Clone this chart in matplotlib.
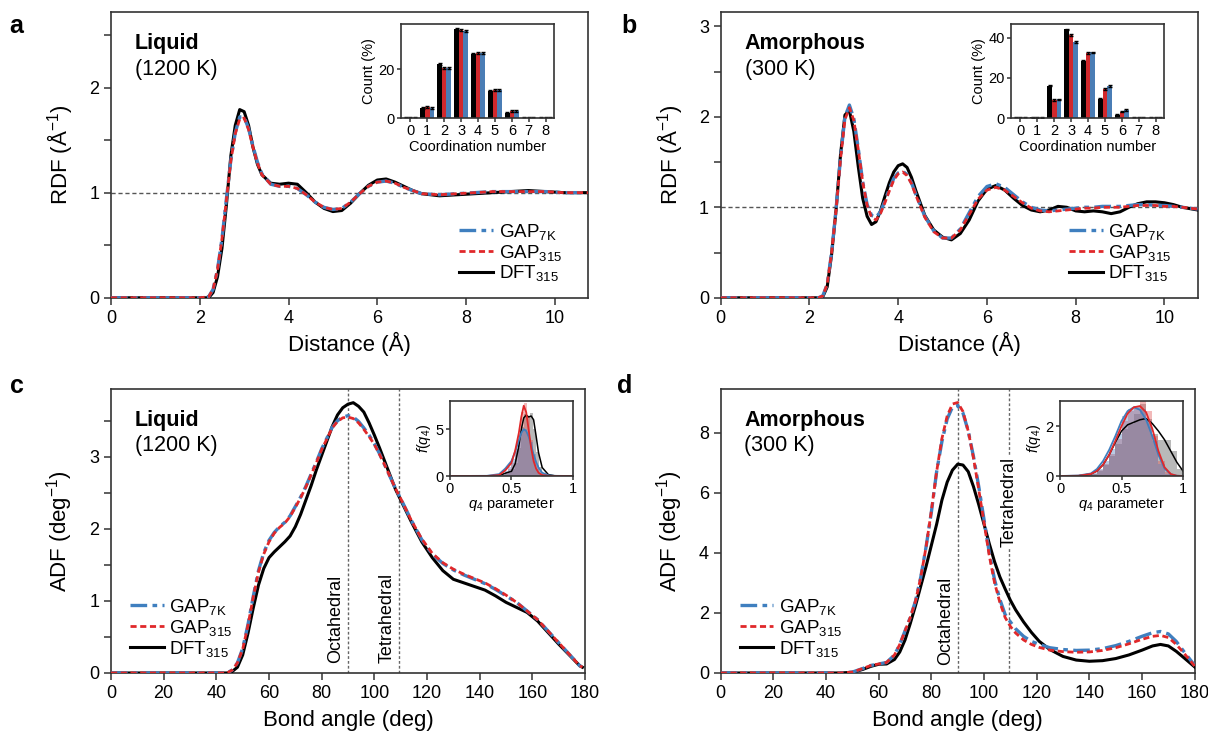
import numpy as np
import matplotlib
matplotlib.use("Agg")
import matplotlib.pyplot as plt
from matplotlib.ticker import MultipleLocator

plt.rcParams['font.family'] = ['Liberation Sans', 'DejaVu Sans']
plt.rcParams['mathtext.fontset'] = 'custom'
plt.rcParams['mathtext.rm'] = 'Liberation Sans'
plt.rcParams['mathtext.it'] = 'Liberation Sans:italic'
plt.rcParams['mathtext.bf'] = 'Liberation Sans:bold'

BLUE = '#3f7fbf'
RED = '#e0282a'
BLACK = '#000000'
AXC = '#333333'

# ---------------- RDF liquid (a) ----------------
r_a = [0, 2.0, 2.2, 2.3, 2.4, 2.5, 2.6, 2.7, 2.8, 2.9, 3.0, 3.1, 3.2, 3.3, 3.4, 3.6, 3.8,
       4.0, 4.2, 4.4, 4.6, 4.8, 5.0, 5.2, 5.4, 5.6, 5.8, 6.0, 6.2, 6.4, 6.6, 6.8, 7.0,
       7.4, 7.8, 8.2, 8.6, 9.0, 9.4, 9.8, 10.2, 10.75]
rdf_a_dft = [0, 0, 0.0, 0.05, 0.2, 0.47, 0.88, 1.35, 1.64, 1.79, 1.77, 1.64, 1.43, 1.27, 1.17,
             1.09, 1.08, 1.09, 1.08, 1.0, 0.91, 0.85, 0.82, 0.83, 0.9, 0.99, 1.07, 1.12, 1.13,
             1.10, 1.06, 1.02, 0.99, 0.97, 0.98, 0.99, 1.0, 1.01, 1.02, 1.01, 1.0, 1.0]
rdf_a_gap315 = [0, 0, 0.01, 0.08, 0.27, 0.56, 0.93, 1.3, 1.56, 1.70, 1.71, 1.60, 1.43, 1.28, 1.17,
                1.08, 1.06, 1.06, 1.04, 0.98, 0.91, 0.86, 0.84, 0.85, 0.91, 0.99, 1.06, 1.10, 1.11,
                1.09, 1.05, 1.02, 0.99, 0.98, 0.99, 1.0, 1.01, 1.01, 1.01, 1.01, 1.0, 1.0]
rdf_a_gap7k = [0, 0, 0.01, 0.08, 0.27, 0.56, 0.94, 1.31, 1.57, 1.72, 1.72, 1.61, 1.44, 1.29, 1.18,
               1.08, 1.06, 1.06, 1.04, 0.98, 0.91, 0.86, 0.84, 0.85, 0.91, 0.99, 1.06, 1.10, 1.11,
               1.09, 1.05, 1.02, 0.99, 0.98, 0.99, 1.0, 1.01, 1.01, 1.01, 1.01, 1.0, 1.0]

# ---------------- RDF amorphous (b) ----------------
r_b = [0, 2.2, 2.3, 2.4, 2.5, 2.6, 2.7, 2.8, 2.9, 3.0, 3.1, 3.2, 3.3, 3.4, 3.5, 3.6, 3.7, 3.8,
       3.9, 4.0, 4.1, 4.2, 4.3, 4.4, 4.6, 4.8, 5.0, 5.2, 5.4, 5.6, 5.8, 6.0, 6.2, 6.4, 6.6, 6.8,
       7.0, 7.2, 7.4, 7.6, 7.8, 8.0, 8.2, 8.4, 8.6, 8.8, 9.0, 9.2, 9.4, 9.6, 9.8, 10.0, 10.2,
       10.4, 10.75]
rdf_b_dft = [0, 0, 0.01, 0.12, 0.48, 0.97, 1.58, 2.02, 2.07, 1.84, 1.45, 1.1, 0.9, 0.81, 0.84,
             0.96, 1.12, 1.27, 1.39, 1.46, 1.48, 1.44, 1.33, 1.18, 0.91, 0.75, 0.67, 0.64, 0.71,
             0.86, 1.07, 1.2, 1.24, 1.19, 1.1, 1.02, 0.97, 0.95, 0.97, 1.01, 1.0, 0.96, 0.95,
             0.96, 0.95, 0.93, 0.95, 1.0, 1.04, 1.06, 1.06, 1.05, 1.03, 1.0, 0.97]
rdf_b_gap315 = [0, 0, 0.02, 0.15, 0.5, 0.97, 1.53, 1.97, 2.10, 1.96, 1.64, 1.28, 1.02, 0.89, 0.86,
                0.93, 1.05, 1.18, 1.3, 1.37, 1.39, 1.35, 1.26, 1.13, 0.89, 0.73, 0.66, 0.66, 0.75,
                0.92, 1.09, 1.19, 1.22, 1.19, 1.12, 1.05, 0.99, 0.96, 0.95, 0.96, 0.97, 0.98, 0.99,
                0.99, 1.0, 1.0, 1.0, 1.01, 1.02, 1.02, 1.02, 1.01, 1.01, 1.0, 0.98]
rdf_b_gap7k = [0, 0, 0.02, 0.15, 0.5, 0.98, 1.55, 2.0, 2.13, 1.98, 1.65, 1.28, 1.03, 0.91, 0.89,
               0.95, 1.07, 1.2, 1.32, 1.38, 1.40, 1.36, 1.27, 1.14, 0.9, 0.74, 0.66, 0.66, 0.76,
               0.94, 1.12, 1.23, 1.26, 1.22, 1.14, 1.06, 1.0, 0.97, 0.96, 0.97, 0.98, 0.99, 1.0,
               1.0, 1.01, 1.01, 1.01, 1.02, 1.03, 1.03, 1.02, 1.02, 1.01, 1.0, 0.98]

# ---------------- ADF liquid (c) ----------------
ang_c = [0, 40, 44, 46, 48, 50, 52, 54, 56, 58, 60, 62, 64, 66, 68, 70, 72, 74, 76, 78, 80, 82,
         84, 86, 88, 90, 92, 94, 96, 98, 100, 102, 104, 106, 108, 110, 114, 118, 122, 126, 130,
         134, 138, 142, 146, 150, 154, 158, 162, 166, 170, 174, 178, 179]
adf_c_dft = [0, 0, 0.0, 0.02, 0.08, 0.25, 0.55, 0.9, 1.22, 1.45, 1.6, 1.68, 1.75, 1.82, 1.9, 2.03,
             2.2, 2.4, 2.6, 2.82, 3.02, 3.22, 3.42, 3.58, 3.68, 3.73, 3.75, 3.7, 3.62, 3.47, 3.3,
             3.12, 2.93, 2.74, 2.55, 2.4, 2.1, 1.82, 1.6, 1.42, 1.3, 1.25, 1.2, 1.15, 1.07, 0.98,
             0.91, 0.84, 0.72, 0.56, 0.4, 0.25, 0.1, 0.08]
adf_c_gap315 = [0, 0, 0.0, 0.04, 0.14, 0.33, 0.66, 1.05, 1.4, 1.65, 1.82, 1.94, 2.02, 2.08, 2.17,
                2.3, 2.43, 2.58, 2.75, 2.92, 3.1, 3.25, 3.4, 3.49, 3.54, 3.55, 3.53, 3.47, 3.38,
                3.28, 3.17, 3.03, 2.88, 2.72, 2.56, 2.42, 2.12, 1.86, 1.66, 1.53, 1.44, 1.37,
                1.31, 1.25, 1.17, 1.08, 0.98, 0.86, 0.74, 0.58, 0.42, 0.26, 0.1, 0.08]
adf_c_gap7k = [0, 0, 0.0, 0.04, 0.14, 0.34, 0.67, 1.06, 1.42, 1.67, 1.84, 1.95, 2.03, 2.09, 2.18,
               2.31, 2.44, 2.59, 2.76, 2.93, 3.11, 3.26, 3.41, 3.5, 3.55, 3.57, 3.55, 3.49, 3.4,
               3.3, 3.18, 3.04, 2.88, 2.72, 2.56, 2.42, 2.12, 1.85, 1.65, 1.52, 1.43, 1.36,
               1.3, 1.24, 1.16, 1.07, 0.98, 0.86, 0.74, 0.58, 0.42, 0.26, 0.1, 0.08]

# ---------------- ADF amorphous (d) ----------------
ang_d = [0, 45, 50, 54, 57, 60, 63, 66, 68, 70, 72, 74, 76, 78, 80, 82, 84, 86, 88, 90, 92, 94,
         96, 98, 100, 102, 104, 106, 108, 110, 112, 115, 118, 121, 125, 130, 135, 140, 145, 150,
         155, 160, 164, 167, 170, 173, 176, 180]
adf_d_dft = [0, 0, 0.02, 0.12, 0.22, 0.29, 0.3, 0.45, 0.7, 1.1, 1.65, 2.25, 2.9, 3.55, 4.25,
             4.95, 5.75, 6.35, 6.75, 6.95, 6.92, 6.7, 6.2, 5.6, 4.95, 4.3, 3.7, 3.2, 2.8, 2.42,
             2.1, 1.7, 1.35, 1.05, 0.78, 0.55, 0.43, 0.39, 0.41, 0.48, 0.6, 0.76, 0.9, 0.95,
             0.9, 0.72, 0.5, 0.2]
adf_d_gap315 = [0, 0, 0.03, 0.15, 0.25, 0.3, 0.35, 0.6, 0.95, 1.4, 1.85, 2.4, 3.2, 4.2, 5.4,
                6.7, 7.8, 8.55, 8.95, 9.0, 8.7, 8.05, 7.15, 6.1, 5.0, 3.9, 3.0, 2.35, 1.85, 1.55,
                1.33, 1.1, 0.95, 0.85, 0.76, 0.71, 0.69, 0.7, 0.75, 0.84, 0.97, 1.12, 1.22, 1.25,
                1.18, 0.95, 0.65, 0.23]
adf_d_gap7k = [0, 0, 0.03, 0.15, 0.25, 0.3, 0.35, 0.6, 0.95, 1.4, 1.85, 2.4, 3.2, 4.2, 5.35,
               6.7, 7.7, 8.45, 8.85, 8.9, 8.65, 8.05, 7.2, 6.2, 5.1, 4.0, 3.1, 2.45, 1.95, 1.7,
               1.47, 1.22, 1.05, 0.95, 0.84, 0.78, 0.75, 0.76, 0.81, 0.91, 1.05, 1.22, 1.34, 1.38,
               1.3, 1.05, 0.7, 0.25]

# ---------------- coordination number insets ----------------
coord = [0, 1, 2, 3, 4, 5, 6, 7, 8]
cn_liq_dft = [0, 4.1, 22.2, 36.3, 26.2, 11.0, 2.2, 0.1, 0]
cn_liq_gap315 = [0, 4.4, 20.4, 36.0, 26.6, 11.6, 2.9, 0.1, 0]
cn_liq_gap7k = [0, 4.1, 20.5, 35.6, 26.6, 11.6, 2.8, 0.1, 0]
cn_am_dft = [0, 0.3, 16.1, 44.0, 28.4, 9.5, 1.7, 0.1, 0]
cn_am_gap315 = [0, 0.2, 9.1, 41.4, 32.2, 14.5, 3.2, 0.1, 0]
cn_am_gap7k = [0, 0.2, 9.3, 37.9, 32.6, 15.8, 4.0, 0.1, 0]

# ---------------- q4 insets ----------------
q_bins_c = [0.40, 0.425, 0.45, 0.475, 0.5, 0.525, 0.55, 0.575, 0.6, 0.625, 0.65, 0.675, 0.7,
            0.725, 0.75, 0.775, 0.8]
hist_c_dft = [0.05, 0.1, 0.2, 0.35, 0.7, 1.4, 3.0, 5.2, 6.6, 6.4, 6.7, 5.0, 2.6, 1.0, 0.3, 0.1, 0.05]
hist_c_gap315 = [0.05, 0.1, 0.3, 0.7, 1.4, 2.7, 4.6, 6.8, 7.8, 6.3, 3.8, 1.8, 0.7, 0.2, 0.05, 0.02, 0.0]
hist_c_gap7k = [0.1, 0.2, 0.5, 1.0, 1.8, 2.9, 4.0, 4.8, 5.0, 4.6, 3.6, 2.3, 1.2, 0.5, 0.2, 0.05, 0.02]
q_line_c = [0.0, 0.3, 0.4, 0.45, 0.5, 0.53, 0.56, 0.58, 0.6, 0.62, 0.64, 0.66, 0.68, 0.7, 0.72,
            0.75, 0.8, 0.85, 1.0]
kde_c_dft = [0, 0, 0.05, 0.3, 0.5, 1.3, 3.2, 5.0, 6.2, 6.5, 6.3, 6.4, 6.0, 4.3, 2.5, 0.9, 0.15, 0.03, 0]
kde_c_gap315 = [0, 0, 0.1, 0.6, 1.4, 2.7, 4.6, 6.3, 7.5, 6.8, 4.9, 3.0, 1.6, 0.8, 0.35, 0.1, 0.02, 0, 0]
kde_c_gap7k = [0, 0.02, 0.2, 0.8, 1.6, 2.6, 3.8, 4.6, 5.0, 4.8, 4.2, 3.3, 2.3, 1.5, 0.9, 0.35, 0.08, 0.02, 0]

q_bins_d = [0.2, 0.25, 0.3, 0.35, 0.4, 0.45, 0.5, 0.55, 0.6, 0.65, 0.7, 0.75, 0.8, 0.85, 0.9, 0.95]
hist_d_dft = [0.05, 0.1, 0.2, 0.45, 0.8, 1.3, 1.9, 2.1, 2.5, 2.9, 2.3, 1.7, 1.45, 1.45, 1.0, 0.3]
hist_d_gap315 = [0.05, 0.1, 0.25, 0.5, 0.9, 1.5, 2.2, 2.6, 2.8, 3.0, 2.6, 1.6, 0.6, 0.15, 0.02, 0.0]
hist_d_gap7k = [0.05, 0.12, 0.3, 0.6, 1.1, 1.7, 2.4, 2.7, 2.8, 2.7, 2.2, 1.4, 0.5, 0.1, 0.02, 0.0]
q_line_d = [0.0, 0.15, 0.25, 0.3, 0.35, 0.4, 0.45, 0.5, 0.55, 0.6, 0.65, 0.7, 0.75, 0.8, 0.85,
            0.9, 0.95, 1.0]
kde_d_dft = [0, 0.01, 0.08, 0.2, 0.45, 0.85, 1.35, 1.8, 2.05, 2.15, 2.25, 2.3, 2.1, 1.8, 1.45,
             1.0, 0.55, 0.2]
kde_d_gap315 = [0, 0.01, 0.08, 0.2, 0.45, 0.85, 1.4, 2.0, 2.5, 2.75, 2.8, 2.55, 1.9, 1.0, 0.35,
                0.08, 0.01, 0]
kde_d_gap7k = [0, 0.02, 0.1, 0.28, 0.6, 1.05, 1.6, 2.2, 2.6, 2.75, 2.65, 2.25, 1.6, 0.85, 0.3,
               0.07, 0.01, 0]


def style_axes(ax, size=13, length=5):
    for s in ax.spines.values():
        s.set_linewidth(1.2)
        s.set_color(AXC)
    ax.tick_params(direction='out', length=length, width=1.1, color=AXC, labelsize=size,
                   top=False, right=False)
    ax.tick_params(which='minor', direction='out', length=length, width=1.1, color=AXC)


def draw_curves(ax, x, dft, g315, g7k, leg_loc, leg_anchor):
    ax.plot(x, dft, color=BLACK, lw=2.2, label='DFT$_{315}$', zorder=3)
    ax.plot(x, g7k, color=BLUE, lw=2.4, ls=(0, (5, 1.6, 1.4, 1.6)), label='GAP$_{7\\mathrm{K}}$', zorder=4)
    ax.plot(x, g315, color=RED, lw=2.0, ls=(0, (2.2, 1.3)), label='GAP$_{315}$', zorder=5)
    h, l = ax.get_legend_handles_labels()
    order = [1, 2, 0]
    ax.legend([h[i] for i in order], [l[i] for i in order], loc=leg_loc, bbox_to_anchor=leg_anchor,
              frameon=False, fontsize=13.5, handlelength=1.8, handletextpad=0.3, labelspacing=0.05,
              borderaxespad=0, borderpad=0)


def coord_inset(ax, dft, g315, g7k, ymax, yticks):
    x = np.array(coord)
    w = 0.27
    ek = dict(elinewidth=1, capsize=1.2, ecolor='black')
    ax.bar(x - w, dft, w, color='black', yerr=0.4, error_kw=ek)
    ax.bar(x, g315, w, color='#d1282c', yerr=0.4, error_kw=ek)
    ax.bar(x + w, g7k, w, color='#4a7db5', yerr=0.4, error_kw=ek)
    ax.set_xlim(-0.55, 8.5)
    ax.set_ylim(0, ymax)
    ax.set_xticks(coord)
    ax.set_yticks(yticks)
    style_axes(ax, size=10.5, length=3)
    ax.set_xlabel('Coordination number', fontsize=10.5, labelpad=1)
    ax.set_ylabel('Count (%)', fontsize=10.5, labelpad=2)
    ax.tick_params(pad=1.5)


def q4_inset(ax, bins, hd, h315, h7k, ql, kd, k315, k7k, ymax, yticks):
    w = bins[1] - bins[0]
    ax.bar(bins, hd, w, align='edge', color='#808080', alpha=0.55, lw=0)
    ax.bar(bins, h315, w, align='edge', color='#e05050', alpha=0.4, lw=0)
    ax.bar(bins, h7k, w, align='edge', color='#5080c0', alpha=0.4, lw=0)
    ax.plot(ql, kd, color='black', lw=1.1)
    ax.plot(ql, k7k, color='#3f7fbf', lw=1.3)
    ax.plot(ql, k315, color='#e0282a', lw=1.3)
    ax.set_xlim(0, 1)
    ax.set_ylim(0, ymax)
    ax.set_xticks([0, 0.5, 1])
    ax.set_xticklabels(['0', '0.5', '1'])
    ax.set_yticks(yticks)
    style_axes(ax, size=10.5, length=3)
    ax.set_xlabel('$q_4$ parameter', fontsize=10.5, labelpad=0)
    ax.set_ylabel('$f$($q_4$)', fontsize=10.5, labelpad=2)
    ax.tick_params(pad=1.5)


def panel_title(ax, bold, temp):
    ax.text(0.05, 0.89, bold, transform=ax.transAxes, fontsize=15.5, weight='bold', va='center')
    ax.text(0.05, 0.80, temp, transform=ax.transAxes, fontsize=15.5, va='center')


fig = plt.figure(figsize=(12.08, 7.38), dpi=100)

ax_a = fig.add_axes([0.0919, 0.5965, 0.3949, 0.3875])
ax_b = fig.add_axes([0.5966, 0.5965, 0.3949, 0.3875])
ax_c = fig.add_axes([0.0919, 0.0881, 0.3924, 0.3848])
ax_d = fig.add_axes([0.5966, 0.0881, 0.3924, 0.3848])

# a
draw_curves(ax_a, r_a, rdf_a_dft, rdf_a_gap315, rdf_a_gap7k, 'lower right', (0.945, 0.05))
ax_a.axhline(1, color='#555555', lw=1, ls=(0, (3, 2)), zorder=1)
ax_a.set_xlim(0, 10.75)
ax_a.set_ylim(0, 2.72)
ax_a.xaxis.set_major_locator(MultipleLocator(2))
ax_a.yaxis.set_major_locator(MultipleLocator(1))
ax_a.yaxis.set_minor_locator(MultipleLocator(0.5))
ax_a.set_xlabel('Distance (Å)', fontsize=16, labelpad=4)
ax_a.set_ylabel('RDF (Å$^{-1}$)', fontsize=16, labelpad=10)
style_axes(ax_a)
panel_title(ax_a, 'Liquid', '(1200 K)')

# b
draw_curves(ax_b, r_b, rdf_b_dft, rdf_b_gap315, rdf_b_gap7k, 'lower right', (0.945, 0.05))
ax_b.axhline(1, color='#555555', lw=1, ls=(0, (3, 2)), zorder=1)
ax_b.set_xlim(0, 10.75)
ax_b.set_ylim(0, 3.16)
ax_b.xaxis.set_major_locator(MultipleLocator(2))
ax_b.yaxis.set_major_locator(MultipleLocator(1))
ax_b.yaxis.set_minor_locator(MultipleLocator(0.5))
ax_b.set_xlabel('Distance (Å)', fontsize=16, labelpad=4)
ax_b.set_ylabel('RDF (Å$^{-1}$)', fontsize=16, labelpad=10)
style_axes(ax_b)
panel_title(ax_b, 'Amorphous', '(300 K)')

# c
draw_curves(ax_c, ang_c, adf_c_dft, adf_c_gap315, adf_c_gap7k, 'lower left', (0.04, 0.05))
for v in (90, 109.5):
    ax_c.axvline(v, color='#666666', lw=1, ls=(0, (2, 1.5)), zorder=1)
ax_c.text(88.5, 0.14, 'Octahedral', rotation=90, ha='right', va='bottom', fontsize=13)
ax_c.text(108, 0.14, 'Tetrahedral', rotation=90, ha='right', va='bottom', fontsize=13)
ax_c.set_xlim(0, 180)
ax_c.set_ylim(0, 3.94)
ax_c.xaxis.set_major_locator(MultipleLocator(20))
ax_c.yaxis.set_major_locator(MultipleLocator(1))
ax_c.yaxis.set_minor_locator(MultipleLocator(0.5))
ax_c.set_xlabel('Bond angle (deg)', fontsize=16, labelpad=6)
ax_c.set_ylabel('ADF (deg$^{-1}$)', fontsize=16, labelpad=10)
style_axes(ax_c)
panel_title(ax_c, 'Liquid', '(1200 K)')

# d
draw_curves(ax_d, ang_d, adf_d_dft, adf_d_gap315, adf_d_gap7k, 'lower left', (0.04, 0.05))
for v in (90, 109.5):
    ax_d.axvline(v, color='#666666', lw=1, ls=(0, (2, 1.5)), zorder=1)
ax_d.text(88.5, 0.25, 'Octahedral', rotation=90, ha='right', va='bottom', fontsize=13)
ax_d.text(109.5, 4.2, 'Tetrahedral', rotation=90, ha='center', va='bottom', fontsize=13,
          bbox=dict(facecolor='white', edgecolor='none', pad=1), zorder=2)
ax_d.set_xlim(0, 180)
ax_d.set_ylim(0, 9.45)
ax_d.xaxis.set_major_locator(MultipleLocator(20))
ax_d.yaxis.set_major_locator(MultipleLocator(2))
ax_d.set_xlabel('Bond angle (deg)', fontsize=16, labelpad=6)
ax_d.set_ylabel('ADF (deg$^{-1}$)', fontsize=16, labelpad=10)
style_axes(ax_d)
panel_title(ax_d, 'Amorphous', '(300 K)')

# insets
in_a = fig.add_axes([0.332, 0.840, 0.1267, 0.1274])
coord_inset(in_a, cn_liq_dft, cn_liq_gap315, cn_liq_gap7k, 38.5, [0, 20])
in_b = fig.add_axes([0.837, 0.840, 0.1267, 0.1274])
coord_inset(in_b, cn_am_dft, cn_am_gap315, cn_am_gap7k, 46.7, [0, 20, 40])
in_c = fig.add_axes([0.3725, 0.355, 0.1018, 0.1016])
q4_inset(in_c, q_bins_c, hist_c_dft, hist_c_gap315, hist_c_gap7k, q_line_c,
         kde_c_dft, kde_c_gap315, kde_c_gap7k, 8.0, [0, 5])
in_d = fig.add_axes([0.8775, 0.355, 0.1018, 0.1016])
q4_inset(in_d, q_bins_d, hist_d_dft, hist_d_gap315, hist_d_gap7k, q_line_d,
         kde_d_dft, kde_d_gap315, kde_d_gap7k, 3.0, [0, 2])

# panel letters
for lab, x, y in [('a', 0.008, 0.965), ('b', 0.514, 0.965), ('c', 0.008, 0.477), ('d', 0.511, 0.477)]:
    fig.text(x, y, lab, fontsize=18, weight='bold', va='center')

fig.savefig('out.png', dpi=100)
